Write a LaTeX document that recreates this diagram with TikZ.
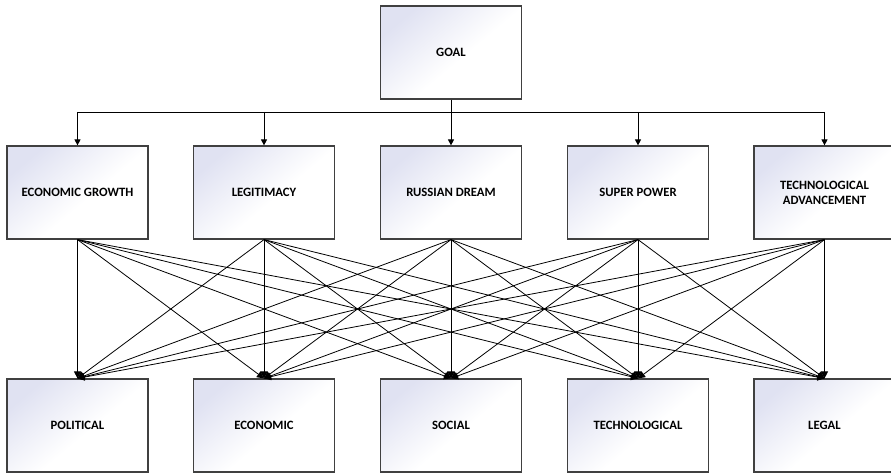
\documentclass[tikz,border=0pt]{standalone}
\usepackage{fontspec}
\setmainfont{Carlito}
\usetikzlibrary{arrows.meta}
\definecolor{boxedge}{HTML}{404040}
\definecolor{boxtint}{HTML}{E0E2F2}
\pgfdeclareverticalshading{boxshade}{100bp}{color(0bp)=(white); color(45bp)=(white); color(75bp)=(boxtint); color(100bp)=(boxtint)}
\tikzset{
  box/.style={rectangle, draw=boxedge, line width=1.2pt, minimum width=141pt, minimum height=93pt,
    shading=boxshade, shading angle=40,
    font=\fontsize{12.7}{15}\selectfont\bfseries, align=center, inner sep=2pt},
  link/.style={draw=black, line width=0.8pt, -{Triangle[length=7pt,width=7pt]}},
  bus/.style={draw=black, line width=0.9pt},
  busarrow/.style={draw=black, line width=0.9pt, -{Triangle[length=6pt,width=6pt]}}
}
\begin{document}
\begin{tikzpicture}[x=1pt,y=-1pt]
\useasboundingbox (0,0) rectangle (891,473);
\fill[white] (0,0) rectangle (891,473);
\node[box] (goal) at (451,52.5) {GOAL};
\node[box] (m1) at (77.5,192.5) {ECONOMIC GROWTH};
\node[box] (m2) at (264,192.5) {LEGITIMACY};
\node[box] (m3) at (451,192.5) {RUSSIAN DREAM};
\node[box] (m4) at (638,192.5) {SUPER POWER};
\node[box] (m5) at (824.5,192.5) {TECHNOLOGICAL\\ADVANCEMENT};
\node[box] (b1) at (77.5,425.5) {POLITICAL};
\node[box] (b2) at (264,425.5) {ECONOMIC};
\node[box] (b3) at (451,425.5) {SOCIAL};
\node[box] (b4) at (638,425.5) {TECHNOLOGICAL};
\node[box] (b5) at (824.5,425.5) {LEGAL};
\coordinate (j1) at (77.5,112);
\coordinate (j3) at (451,112);
\coordinate (j5) at (824.5,112);
\draw[bus] (goal.south) -- (j3);
\draw[bus] (j1) -- (j5);
\draw[busarrow] (j1) -- (m1.north);
\draw[busarrow] (m2.north |- j1) -- (m2.north);
\draw[busarrow] (j3) -- (m3.north);
\draw[busarrow] (m4.north |- j1) -- (m4.north);
\draw[busarrow] (j5) -- (m5.north);
\foreach \m in {1,...,5} {
  \foreach \b in {1,...,5} {
    \draw[link] (m\m.south) -- (b\b.north);
  }
}
\end{tikzpicture}
\end{document}
